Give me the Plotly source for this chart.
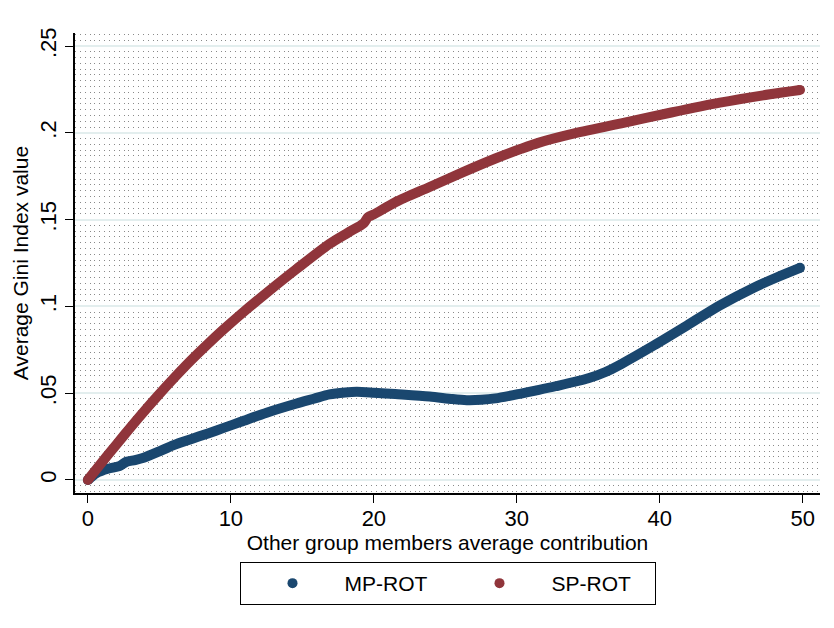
import plotly.graph_objects as go

# Average Gini index by other members' average contribution
mp_x = [0, 0.6, 1.4, 2.2, 2.7, 3.3, 3.9, 5, 6, 7.2, 8.4, 9.5, 10.7, 12.5, 14.6,
        15.8, 16.9, 18, 18.8, 20, 21.5, 23.9, 25.5, 26.5, 27.5, 28.5, 30.3,
        31.3, 32.7, 35, 36.2, 37.3, 39.6, 41.9, 44.2, 46.5, 48.2, 49.8]
mp_y = [0, 0.004, 0.0065, 0.008, 0.0105, 0.0115, 0.0128, 0.0165, 0.0201,
        0.0235, 0.0268, 0.030, 0.0335, 0.0388, 0.0441, 0.0468, 0.0493, 0.0504,
        0.0508, 0.0503, 0.0495, 0.0481, 0.0466, 0.046, 0.0462, 0.047, 0.0498,
        0.0515, 0.054, 0.0586, 0.0622, 0.0668, 0.0776, 0.089, 0.1006, 0.1105,
        0.1168, 0.1222]

sp_x = [0, 0.7, 1.4, 2.5, 3.7, 4.9, 6, 7.2, 8.4, 9.5, 10.7, 12.5, 14.6, 16.9,
        18.2, 19.3, 19.6, 20, 21.5, 23.9, 26.2, 28.5, 30.3, 31.5, 33.8, 37.3,
        40.8, 44.2, 47.7, 49.8]
sp_y = [0, 0.0072, 0.0144, 0.0255, 0.0373, 0.0486, 0.0585, 0.0688, 0.0784,
        0.0868, 0.0955, 0.1078, 0.1216, 0.136, 0.1425, 0.148, 0.1515, 0.153,
        0.160, 0.1688, 0.1772, 0.1852, 0.1908, 0.1942, 0.1992, 0.2054, 0.2117,
        0.2174, 0.2222, 0.2247]

y_ticks = [0, 0.05, 0.1, 0.15, 0.2, 0.25]
y_labels = ["0", ".05", ".1", ".15", ".2", ".25"]
x_ticks = [0, 10, 20, 30, 40, 50]

blue = "#1a476f"
red = "#90353b"
font = "Arial, Liberation Sans, sans-serif"

fig = go.Figure()

for xs, ys, col in [(mp_x, mp_y, blue), (sp_x, sp_y, red)]:
    fig.add_trace(go.Scatter(x=xs, y=ys, mode="lines",
                             line=dict(color=col, width=10, shape="spline",
                                       smoothing=0.8),
                             showlegend=False, hoverinfo="skip"))
    # round caps at the two ends
    fig.add_trace(go.Scatter(x=[xs[0], xs[-1]], y=[ys[0], ys[-1]],
                             mode="markers", marker=dict(color=col, size=10),
                             showlegend=False, hoverinfo="skip"))

# legend entries (dot only)
for name, col in [("MP-ROT", blue), ("SP-ROT", red)]:
    fig.add_trace(go.Scatter(x=[None], y=[None], mode="markers", name=name,
                             marker=dict(color=col, size=10)))

# page body adds an 8px offset, so the figure is 8px smaller than the window
fig.update_layout(
    width=826, height=620,
    margin=dict(l=62, r=14, t=25, b=135),
    paper_bgcolor="white", plot_bgcolor="white",
    font=dict(family=font, size=20, color="black"),
    legend=dict(orientation="h", x=0.5, xanchor="center", y=-0.150,
                yanchor="top", bordercolor="black", borderwidth=1,
                font=dict(size=21), itemwidth=94, entrywidth=98,
                entrywidthmode="pixels"),
)

fig.update_xaxes(range=[-0.9, 51.2], tickvals=x_ticks, ticks="outside",
                 ticklen=8, tickcolor="black", showline=True,
                 linecolor="black", linewidth=1.5, showgrid=False,
                 zeroline=False, tickfont=dict(size=22),
                 ticklabelstandoff=-3,
                 title=dict(text="Other group members average contribution",
                            font=dict(size=21), standoff=4))

fig.update_yaxes(range=[-0.0075, 0.2575], tickvals=y_ticks, ticktext=y_labels,
                 tickangle=-90, ticks="outside", ticklen=8, tickcolor="black",
                 showline=True, linecolor="black", linewidth=1.5,
                 showgrid=True, gridcolor="#e3eeee", gridwidth=1.5,
                 zeroline=False, tickfont=dict(size=22),
                 minor=dict(tick0=0, dtick=0.05 / 15, showgrid=True,
                            gridcolor="#8a8a8a", gridwidth=1,
                            griddash="1px,3.85px", ticks=""),
                 title=dict(text="Average Gini Index value",
                            font=dict(size=21), standoff=2))

fig.write_html("out.html")
